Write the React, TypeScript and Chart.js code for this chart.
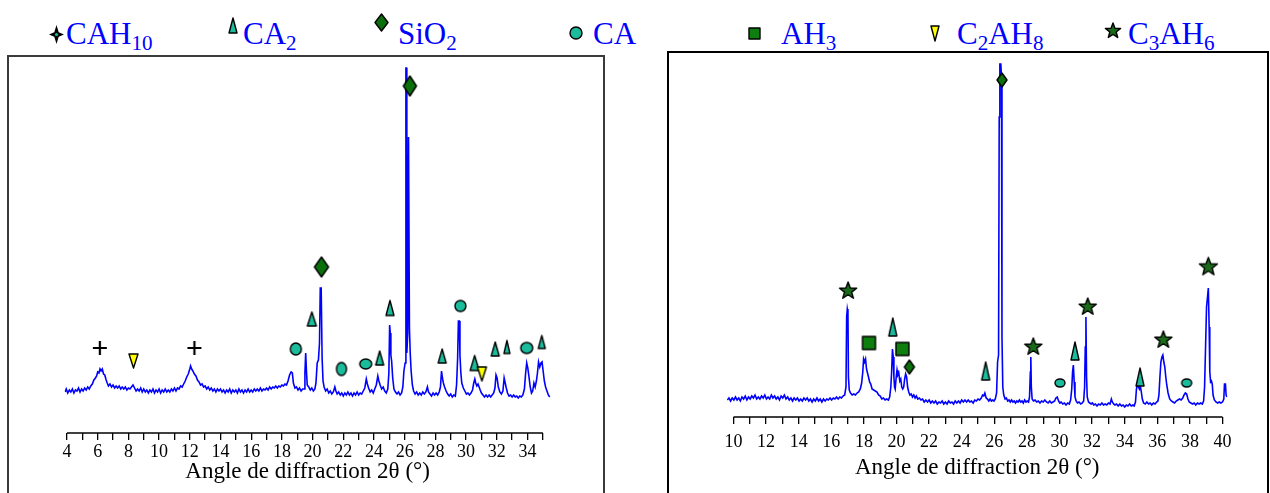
import React, { useEffect, useRef } from 'react';
import { Chart, registerables } from 'chart.js';

Chart.register(...registerables);

type Pt = [number, number];

// ---------------- DATA ----------------
const axisTitle = 'Angle de diffraction 2θ (°)';

const leftTickLabels = [4, 6, 8, 10, 12, 14, 16, 18, 20, 22, 24, 26, 28, 30, 32, 34];
const rightTickLabels = [10, 12, 14, 16, 18, 20, 22, 24, 26, 28, 30, 32, 34, 36, 38, 40];

// left pattern (2θ, intensity a.u.)
const leftSpectrum: Pt[] = [
  [3.87,41],[3.95,44],[4.05,40],[4.15,43],[4.25,41],[4.35,44],[4.45,40],[4.55,43],[4.65,42],[4.75,45],[4.85,41],[4.95,44],
  [5.05,42],[5.15,45],[5.25,43],[5.35,46],[5.45,44],[5.55,47],[5.65,49],[5.75,53],[5.85,55],[5.93,57],[6.0,61],[6.08,60],
  [6.15,64],[6.22,62],[6.3,64],[6.38,59],[6.46,58],[6.55,53],[6.62,50],[6.7,47],[6.8,49],[6.9,46],[7.0,48],[7.1,45],
  [7.2,47],[7.3,45],[7.4,47],[7.5,44],[7.6,46],[7.7,44],[7.8,46],[7.9,43],[8.0,45],[8.1,44],[8.2,46],[8.3,48],[8.4,45],
  [8.5,42],[8.6,44],[8.7,42],[8.8,45],[8.9,41],[9.0,44],[9.1,41],[9.2,43],[9.3,40],[9.4,43],[9.5,41],[9.6,44],[9.7,40],
  [9.8,43],[9.9,41],[10.0,44],[10.1,40],[10.2,43],[10.3,41],[10.4,44],[10.5,41],[10.6,43],[10.7,41],[10.8,44],[10.9,42],
  [11.0,45],[11.1,42],[11.2,45],[11.3,44],[11.4,47],[11.5,46],[11.6,49],[11.7,52],[11.8,56],[11.9,59],[12.0,64],[12.05,67],
  [12.12,64],[12.2,62],[12.3,59],[12.4,57],[12.5,53],[12.6,51],[12.7,48],[12.8,49],[12.9,46],[13.0,47],[13.1,44],[13.2,46],
  [13.3,43],[13.4,45],[13.5,42],[13.6,44],[13.7,41],[13.8,44],[13.9,42],[14.0,44],[14.1,41],[14.2,43],[14.3,40],[14.4,43],
  [14.5,41],[14.6,44],[14.7,40],[14.8,43],[14.9,41],[15.0,43],[15.1,40],[15.2,44],[15.3,41],[15.4,43],[15.5,40],[15.6,43],
  [15.7,41],[15.8,44],[15.9,41],[16.0,43],[16.1,41],[16.2,44],[16.3,42],[16.4,44],[16.5,42],[16.6,45],[16.7,42],[16.8,44],
  [16.9,43],[17.0,45],[17.1,43],[17.2,46],[17.3,44],[17.4,46],[17.5,45],[17.6,47],[17.7,45],[17.8,47],[17.9,46],[18.0,48],
  [18.1,47],[18.2,49],[18.3,48],[18.4,52],[18.5,58],[18.6,61],[18.68,60],[18.75,50],[18.85,45],[18.95,46],[19.05,43],
  [19.15,45],[19.25,42],[19.35,44],[19.45,44],[19.5,60],[19.55,80],[19.6,62],[19.65,48],[19.75,46],[19.85,43],[19.95,45],
  [20.05,42],[20.15,44],[20.22,50],[20.3,70],[20.38,73],[20.45,90],[20.5,145],[20.56,145],[20.62,75],[20.68,52],[20.75,46],
  [20.85,42],[20.95,44],[21.05,40],[21.15,42],[21.25,39],[21.35,41],[21.45,46],[21.52,42],[21.6,39],[21.7,41],[21.8,38],
  [21.9,40],[22.0,37],[22.1,40],[22.2,38],[22.3,41],[22.4,38],[22.5,40],[22.6,37],[22.7,40],[22.8,38],[22.9,41],[23.0,38],
  [23.1,40],[23.2,39],[23.3,42],[23.4,45],[23.5,54],[23.57,49],[23.65,45],[23.75,41],[23.85,43],[23.95,40],[24.05,44],
  [24.15,48],[24.25,57],[24.32,52],[24.4,48],[24.5,44],[24.6,46],[24.7,42],[24.8,40],[24.9,44],[24.97,60],[25.02,108],
  [25.06,100],[25.1,78],[25.15,72],[25.22,55],[25.3,44],[25.4,41],[25.5,39],[25.6,41],[25.7,38],[25.8,40],[25.88,46],
  [25.95,62],[26.03,70],[26.08,365],[26.12,365],[26.14,80],[26.2,100],[26.25,296],[26.28,296],[26.31,105],[26.36,80],
  [26.42,62],[26.5,48],[26.58,42],[26.68,39],[26.78,41],[26.88,38],[26.98,40],[27.08,38],[27.18,41],[27.28,39],[27.38,41],
  [27.48,46],[27.55,41],[27.65,39],[27.75,37],[27.85,40],[27.95,38],[28.05,40],[28.15,38],[28.25,41],[28.33,46],[28.4,62],
  [28.46,55],[28.52,50],[28.6,46],[28.7,42],[28.8,39],[28.9,37],[29.0,39],[29.1,36],[29.2,38],[29.3,37],[29.38,48],
  [29.45,75],[29.5,112],[29.56,112],[29.6,78],[29.66,60],[29.72,50],[29.82,45],[29.92,42],[30.02,39],[30.12,40],[30.22,38],
  [30.32,40],[30.42,43],[30.5,50],[30.57,54],[30.63,50],[30.7,47],[30.78,49],[30.85,46],[30.92,43],[31.0,40],[31.1,38],
  [31.2,36],[31.3,38],[31.4,36],[31.5,38],[31.6,36],[31.7,38],[31.8,40],[31.88,45],[31.95,58],[32.02,55],[32.1,46],
  [32.2,41],[32.3,39],[32.4,42],[32.48,55],[32.55,50],[32.62,45],[32.7,40],[32.8,37],[32.9,38],[33.0,36],[33.1,38],
  [33.2,36],[33.3,37],[33.4,35],[33.5,37],[33.6,36],[33.7,38],[33.8,44],[33.88,60],[33.95,70],[34.02,65],[34.1,56],
  [34.18,46],[34.26,40],[34.34,42],[34.42,50],[34.5,46],[34.58,52],[34.65,60],[34.72,71],[34.8,66],[34.88,70],[34.95,71],
  [35.02,62],[35.1,52],[35.18,46],[35.27,42],[35.36,38],[35.45,36],
];

// right pattern (2θ, intensity a.u.)
const rightSpectrum: Pt[] = [
  [9.62,17],[9.72,19],[9.82,16],[9.92,19],[10.02,17],[10.12,20],[10.22,17],[10.32,19],[10.42,16],[10.52,20],[10.62,18],
  [10.72,21],[10.82,17],[10.92,20],[11.02,18],[11.12,21],[11.22,19],[11.32,22],[11.42,18],[11.52,20],[11.62,18],[11.72,21],
  [11.82,19],[11.92,22],[12.02,18],[12.12,20],[12.22,18],[12.32,22],[12.42,19],[12.52,21],[12.62,18],[12.72,20],[12.82,17],
  [12.92,21],[13.02,19],[13.12,22],[13.22,18],[13.32,20],[13.42,17],[13.52,19],[13.62,16],[13.72,19],[13.82,17],[13.92,19],
  [14.02,16],[14.12,18],[14.22,16],[14.32,19],[14.42,17],[14.52,19],[14.62,16],[14.72,18],[14.82,15],[14.92,18],[15.02,16],
  [15.12,19],[15.22,16],[15.32,18],[15.42,15],[15.52,18],[15.62,16],[15.72,18],[15.82,17],[15.92,19],[16.02,17],[16.12,19],
  [16.22,18],[16.32,20],[16.42,18],[16.52,20],[16.62,19],[16.72,21],[16.82,22],[16.9,30],[16.94,100],[16.98,108],[17.02,104],
  [17.05,40],[17.1,27],[17.18,24],[17.28,22],[17.38,23],[17.48,22],[17.58,24],[17.68,25],[17.78,28],[17.86,34],[17.93,45],
  [17.98,58],[18.04,55],[18.1,58],[18.16,48],[18.22,44],[18.28,40],[18.35,35],[18.42,33],[18.5,28],[18.6,27],[18.7,26],
  [18.8,25],[18.9,22],[19.0,21],[19.1,18],[19.2,19],[19.3,17],[19.4,18],[19.5,17],[19.58,20],[19.65,30],[19.7,45],[19.75,68],
  [19.8,60],[19.84,40],[19.88,30],[19.92,28],[19.98,40],[20.03,47],[20.08,42],[20.14,44],[20.2,36],[20.26,38],[20.32,30],
  [20.38,28],[20.44,30],[20.5,38],[20.56,43],[20.62,40],[20.68,30],[20.75,25],[20.82,22],[20.9,23],[20.98,20],[21.06,22],
  [21.14,19],[21.22,21],[21.3,18],[21.4,19],[21.5,17],[21.6,18],[21.7,15],[21.8,17],[21.9,15],[22.0,17],[22.1,14],[22.2,16],
  [22.3,14],[22.4,16],[22.5,13],[22.6,15],[22.7,14],[22.8,16],[22.9,13],[23.0,15],[23.1,13],[23.2,16],[23.3,14],[23.4,15],
  [23.5,13],[23.6,16],[23.7,14],[23.8,16],[23.9,14],[24.0,17],[24.1,15],[24.2,17],[24.3,15],[24.4,17],[24.5,15],[24.6,16],
  [24.7,14],[24.8,17],[24.9,16],[25.0,18],[25.1,17],[25.2,19],[25.28,22],[25.35,21],[25.42,24],[25.5,19],[25.58,18],
  [25.66,16],[25.74,18],[25.82,16],[25.9,17],[25.98,16],[26.06,18],[26.14,24],[26.2,55],[26.26,62],[26.3,300],[26.34,353],
  [26.4,353],[26.44,340],[26.47,80],[26.52,30],[26.58,22],[26.66,18],[26.74,19],[26.82,16],[26.9,17],[26.98,15],[27.06,17],
  [27.14,15],[27.22,16],[27.3,14],[27.38,16],[27.46,15],[27.54,17],[27.62,15],[27.7,16],[27.78,14],[27.86,17],[27.94,15],
  [28.02,16],[28.1,15],[28.16,20],[28.21,45],[28.24,60],[28.27,30],[28.32,18],[28.4,16],[28.5,17],[28.6,15],[28.7,16],
  [28.8,14],[28.9,16],[29.0,15],[29.1,17],[29.2,15],[29.3,14],[29.4,16],[29.5,14],[29.6,15],[29.7,16],[29.78,19],[29.86,20],
  [29.94,16],[30.02,14],[30.1,15],[30.2,13],[30.3,14],[30.4,12],[30.5,14],[30.6,13],[30.68,17],[30.75,28],[30.8,45],
  [30.85,52],[30.9,35],[30.95,20],[31.02,16],[31.1,14],[31.2,15],[31.3,13],[31.4,14],[31.48,16],[31.54,30],[31.58,70],
  [31.62,100],[31.66,40],[31.7,20],[31.78,15],[31.86,14],[31.94,13],[32.02,14],[32.1,12],[32.2,13],[32.3,11],[32.4,13],
  [32.5,12],[32.6,14],[32.7,12],[32.8,13],[32.9,12],[33.0,14],[33.1,13],[33.18,18],[33.24,15],[33.32,13],[33.4,12],[33.5,13],
  [33.6,11],[33.7,13],[33.8,11],[33.9,12],[34.0,10],[34.1,12],[34.2,11],[34.3,13],[34.4,11],[34.5,12],[34.58,11],[34.66,15],
  [34.72,28],[34.78,33],[34.84,30],[34.9,28],[34.96,31],[35.02,25],[35.08,18],[35.16,14],[35.26,13],[35.36,15],[35.46,13],
  [35.56,14],[35.66,12],[35.76,14],[35.86,13],[35.96,15],[36.04,16],[36.1,22],[36.16,40],[36.22,55],[36.28,60],[36.34,62],
  [36.4,55],[36.46,50],[36.52,40],[36.58,32],[36.66,24],[36.76,18],[36.86,16],[36.96,15],[37.06,14],[37.16,16],[37.26,17],
  [37.36,18],[37.46,17],[37.56,19],[37.64,22],[37.72,24],[37.8,23],[37.88,18],[37.96,15],[38.06,14],[38.16,13],[38.26,14],
  [38.36,12],[38.46,14],[38.56,13],[38.66,14],[38.76,13],[38.84,16],[38.9,30],[38.96,70],[39.02,110],[39.08,120],[39.13,129],
  [39.18,90],[39.22,45],[39.27,35],[39.32,36],[39.37,33],[39.42,22],[39.5,17],[39.6,15],[39.7,14],[39.8,15],[39.9,14],
  [40.0,15],[40.08,18],[40.12,33],[40.18,33],[40.22,22],[40.28,20],
];

// phase markers, left pattern
const leftCAH10: Pt[] = [[6.14, 85], [12.3, 85]];
const leftC2AH8: Pt[] = [[8.33, 72], [31.03, 59]];
const leftCA: Pt[] = [[18.91, 84], [21.88, 64], [23.46, 69], [29.63, 127], [33.95, 85]];
const leftCA2: Pt[] = [[19.95, 114], [24.37, 75], [25.04, 125], [28.44, 77], [30.56, 70], [31.9, 84], [32.66, 86], [34.93, 91]];
const leftSiO2: Pt[] = [[20.58, 166], [26.34, 347]];

// phase markers, right pattern
const rightC3AH6: Pt[] = [[17.03, 126], [28.39, 70], [31.73, 110], [36.37, 77], [39.13, 150]];
const rightAH3: Pt[] = [[18.31, 74], [20.36, 68]];
const rightCA2: Pt[] = [[19.77, 90], [25.47, 46], [30.95, 66], [34.94, 40]];
const rightSiO2: Pt[] = [[20.79, 50], [26.47, 337]];
const rightCA: Pt[] = [[30.03, 34], [37.8, 34]];

// ---------------- STYLE ----------------
const FONT = 'Liberation Serif, Times New Roman, serif';
const TEAL = '#1ABC9C';
const DGREEN = '#0B700B';
const SQGREEN = '#0E7E0E';
const STARGREEN = '#1A6A1A';
const YELLOW = '#FFFF00';

function makeMarker(kind: string, w: number, h: number, fill: string): HTMLCanvasElement {
  const pad = 2;
  const c = document.createElement('canvas');
  c.width = Math.ceil(w + pad * 2);
  c.height = Math.ceil(h + pad * 2);
  const ctx = c.getContext('2d') as CanvasRenderingContext2D;
  const cx = c.width / 2, cy = c.height / 2;
  ctx.lineWidth = 1.4;
  ctx.strokeStyle = '#000';
  ctx.fillStyle = fill;
  ctx.lineJoin = 'round';
  ctx.beginPath();
  if (kind === 'plus') {
    ctx.lineWidth = 2.2;
    ctx.moveTo(cx, cy - h / 2); ctx.lineTo(cx, cy + h / 2);
    ctx.moveTo(cx - w / 2, cy); ctx.lineTo(cx + w / 2, cy);
    ctx.stroke();
    return c;
  }
  if (kind === 'tri') {
    ctx.moveTo(cx, cy - h / 2); ctx.lineTo(cx + w / 2, cy + h / 2); ctx.lineTo(cx - w / 2, cy + h / 2); ctx.closePath();
  } else if (kind === 'itri') {
    ctx.moveTo(cx - w / 2, cy - h / 2); ctx.lineTo(cx + w / 2, cy - h / 2); ctx.lineTo(cx, cy + h / 2); ctx.closePath();
  } else if (kind === 'diamond') {
    ctx.moveTo(cx, cy - h / 2); ctx.lineTo(cx + w / 2, cy); ctx.lineTo(cx, cy + h / 2); ctx.lineTo(cx - w / 2, cy); ctx.closePath();
  } else if (kind === 'ellipse') {
    ctx.ellipse(cx, cy, w / 2, h / 2, 0, 0, Math.PI * 2);
  } else if (kind === 'square') {
    ctx.rect(cx - w / 2, cy - h / 2, w, h);
  } else if (kind === 'star') {
    const R = w / 2, r = R * 0.42;
    for (let i = 0; i < 10; i++) {
      const a = -Math.PI / 2 + (i * Math.PI) / 5;
      const rr = i % 2 === 0 ? R : r;
      const px = cx + rr * Math.cos(a), py = cy + rr * Math.sin(a);
      if (i === 0) ctx.moveTo(px, py); else ctx.lineTo(px, py);
    }
    ctx.closePath();
  }
  ctx.fill();
  ctx.stroke();
  return c;
}

type MarkerSet = { data: Pt[]; kind: string; fill: string; sizes: Pt[] };

const axisLinePlugin = {
  id: 'axisLine',
  afterDraw(chart: any, _args: any, opts: any) {
    const s = chart.scales.x;
    const ctx = chart.ctx;
    ctx.save();
    ctx.strokeStyle = '#000';
    ctx.lineWidth = 1.5;
    ctx.beginPath();
    ctx.moveTo(s.getPixelForValue(opts.from), s.top);
    ctx.lineTo(s.getPixelForValue(opts.to), s.top);
    ctx.stroke();
    ctx.restore();
  },
};

type PanelProps = {
  spectrum: Pt[];
  markers: MarkerSet[];
  xMin: number; xMax: number;
  tickFrom: number; tickTo: number;
  labels: number[];
  yMax: number;
  padLeft: number; padRight: number; padTop: number;
  axisHeight: number;
  titlePadBottom: number;
  tickPad: number;
  left: number; width: number;
};

function Panel(p: PanelProps) {
  const ref = useRef<HTMLCanvasElement>(null);
  useEffect(() => {
    if (!ref.current) return;
    const datasets: any[] = [
      {
        data: p.spectrum.map(([x, y]) => ({ x, y })),
        showLine: true,
        borderColor: '#0000FF',
        borderWidth: 1.6,
        pointRadius: 0,
        tension: 0,
        order: 10,
      },
      ...p.markers.map((m) => ({
        data: m.data.map(([x, y]) => ({ x, y })),
        showLine: false,
        pointStyle: m.sizes.map(([w, h]) => makeMarker(m.kind, w, h, m.fill)),
        pointRadius: 6,
        order: 1,
      })),
    ];
    const chart = new Chart(ref.current, {
      type: 'scatter',
      data: { datasets },
      plugins: [axisLinePlugin as any],
      options: {
        responsive: false,
        animation: false,
        events: [],
        layout: { padding: { left: p.padLeft, right: p.padRight, top: p.padTop, bottom: 0 } },
        plugins: {
          legend: { display: false },
          tooltip: { enabled: false },
          axisLine: { from: p.tickFrom, to: p.tickTo },
        } as any,
        scales: {
          x: {
            type: 'linear',
            min: p.xMin,
            max: p.xMax,
            border: { display: false },
            grid: { drawOnChartArea: false, drawTicks: true, tickLength: 7, color: '#000', lineWidth: 1.3 },
            afterBuildTicks: (s: any) => {
              const t: any[] = [];
              for (let v = p.tickFrom; v <= p.tickTo; v += 1) t.push({ value: v });
              s.ticks = t;
            },
            afterFit: (s: any) => { s.height = p.axisHeight; },
            ticks: {
              autoSkip: false,
              maxRotation: 0,
              padding: p.tickPad,
              color: '#000',
              font: { family: FONT, size: 18 },
              callback: (v: any) => (p.labels.includes(Number(v)) ? String(v) : ''),
            },
            title: {
              display: true,
              text: axisTitle,
              color: '#000',
              font: { family: FONT, size: 23 },
              padding: { top: 0, bottom: p.titlePadBottom },
            },
          },
          y: { display: false, min: 0, max: p.yMax },
        },
      },
    });
    return () => chart.destroy();
  }, []);
  return (
    <canvas
      ref={ref}
      width={p.width}
      height={493}
      style={{ position: 'absolute', left: p.left, top: 0, width: p.width, height: 493 }}
    />
  );
}

// ---------------- LEGEND ----------------
function Icon({ kind, w, h, fill, x, y }: { kind: string; w: number; h: number; fill: string; x: number; y: number }) {
  const pad = 2;
  const W = w + pad * 2, H = h + pad * 2;
  const cx = W / 2, cy = H / 2;
  let shape: any = null;
  const st = { stroke: '#000', strokeWidth: 1.4, strokeLinejoin: 'round' as const };
  if (kind === 'cross') {
    const r = w / 2, i = 2.2;
    const d = `M${cx} ${cy - h / 2} L${cx + i} ${cy - i} L${cx + r} ${cy} L${cx + i} ${cy + i} L${cx} ${cy + h / 2} L${cx - i} ${cy + i} L${cx - r} ${cy} L${cx - i} ${cy - i} Z`;
    shape = (<><path d={d} fill="#000" /><circle cx={cx} cy={cy} r={1.6} fill={fill} /></>);
  } else if (kind === 'tri') {
    shape = <path d={`M${cx} ${cy - h / 2} L${cx + w / 2} ${cy + h / 2} L${cx - w / 2} ${cy + h / 2} Z`} fill={fill} {...st} />;
  } else if (kind === 'itri') {
    shape = <path d={`M${cx - w / 2} ${cy - h / 2} L${cx + w / 2} ${cy - h / 2} L${cx} ${cy + h / 2} Z`} fill={fill} {...st} />;
  } else if (kind === 'diamond') {
    shape = <path d={`M${cx} ${cy - h / 2} L${cx + w / 2} ${cy} L${cx} ${cy + h / 2} L${cx - w / 2} ${cy} Z`} fill={fill} {...st} />;
  } else if (kind === 'ellipse') {
    shape = <ellipse cx={cx} cy={cy} rx={w / 2} ry={h / 2} fill={fill} {...st} />;
  } else if (kind === 'square') {
    shape = <rect x={cx - w / 2} y={cy - h / 2} width={w} height={h} fill={fill} {...st} />;
  } else if (kind === 'star') {
    const R = w / 2, r = R * 0.42;
    let d = '';
    for (let i = 0; i < 10; i++) {
      const a = -Math.PI / 2 + (i * Math.PI) / 5;
      const rr = i % 2 === 0 ? R : r;
      d += `${i === 0 ? 'M' : 'L'}${(cx + rr * Math.cos(a)).toFixed(2)} ${(cy + rr * Math.sin(a)).toFixed(2)} `;
    }
    shape = <path d={d + 'Z'} fill={fill} {...st} />;
  }
  return (
    <svg width={W} height={H} style={{ position: 'absolute', left: x - W / 2, top: y - H / 2 }}>
      {shape}
    </svg>
  );
}

type Seg = [string, boolean];
const legendNames: Seg[][] = [
  [['CAH', false], ['10', true]],
  [['CA', false], ['2', true]],
  [['SiO', false], ['2', true]],
  [['CA', false]],
  [['AH', false], ['3', true]],
  [['C', false], ['2', true], ['AH', false], ['8', true]],
  [['C', false], ['3', true], ['AH', false], ['6', true]],
];
const legendIcons = [
  { kind: 'cross', w: 15, h: 19, fill: TEAL, x: 56, y: 34, tx: 66 },
  { kind: 'tri', w: 8, h: 15, fill: TEAL, x: 233, y: 25, tx: 243 },
  { kind: 'diamond', w: 13, h: 17, fill: DGREEN, x: 381, y: 22, tx: 398 },
  { kind: 'ellipse', w: 12, h: 12, fill: TEAL, x: 576, y: 33, tx: 593 },
  { kind: 'square', w: 11, h: 11, fill: SQGREEN, x: 754, y: 33, tx: 781 },
  { kind: 'itri', w: 8, h: 15, fill: YELLOW, x: 935, y: 33, tx: 957 },
  { kind: 'star', w: 16, h: 16, fill: STARGREEN, x: 1113, y: 31, tx: 1128 },
];

function Legend() {
  return (
    <>
      {legendIcons.map((ic, i) => (
        <React.Fragment key={i}>
          <Icon kind={ic.kind} w={ic.w} h={ic.h} fill={ic.fill} x={ic.x} y={ic.y} />
          <div
            style={{
              position: 'absolute', left: ic.tx, top: 18, fontFamily: FONT, fontSize: 31,
              lineHeight: '31px', color: '#0000FF', whiteSpace: 'nowrap',
            }}
          >
            {legendNames[i].map(([t, sub], j) =>
              sub ? (
                <span key={j} style={{ fontSize: '0.68em', position: 'relative', top: '0.3em', lineHeight: 1 }}>{t}</span>
              ) : (
                <span key={j}>{t}</span>
              )
            )}
          </div>
        </React.Fragment>
      ))}
    </>
  );
}

// ---------------- APP ----------------
export default function App() {
  const leftMarkers: MarkerSet[] = [
    { data: leftCAH10, kind: 'plus', fill: '#000', sizes: [[14, 14], [14, 14]] },
    { data: leftC2AH8, kind: 'itri', fill: YELLOW, sizes: [[9, 14], [9, 14]] },
    { data: leftCA, kind: 'ellipse', fill: TEAL, sizes: [[11, 12], [10, 13], [12, 10], [11, 11], [12, 11]] },
    { data: leftCA2, kind: 'tri', fill: TEAL, sizes: [[9, 14], [8, 14], [8, 15], [8, 14], [9, 15], [8, 14], [6, 13], [7, 13]] },
    { data: leftSiO2, kind: 'diamond', fill: DGREEN, sizes: [[14, 20], [13, 20]] },
  ];
  const rightMarkers: MarkerSet[] = [
    { data: rightC3AH6, kind: 'star', fill: STARGREEN, sizes: [[18, 18], [18, 18], [18, 18], [18, 18], [19, 19]] },
    { data: rightAH3, kind: 'square', fill: SQGREEN, sizes: [[13, 13], [13, 13]] },
    { data: rightCA2, kind: 'tri', fill: TEAL, sizes: [[8, 18], [8, 18], [8, 18], [8, 18]] },
    { data: rightSiO2, kind: 'diamond', fill: DGREEN, sizes: [[10, 14], [10, 14]] },
    { data: rightCA, kind: 'ellipse', fill: TEAL, sizes: [[10, 8], [10, 8]] },
  ];
  return (
    <div style={{ position: 'absolute', left: 0, top: 0, width: 1270, height: 493, overflow: 'hidden', background: '#fff' }}>
      <div style={{ position: 'absolute', left: 7, top: 55, width: 594, height: 500, border: '2px solid #3a3a3a' }} />
      <div style={{ position: 'absolute', left: 667, top: 51, width: 598, height: 500, border: '2px solid #000' }} />
      <Legend />
      <Panel
        spectrum={leftSpectrum}
        markers={leftMarkers}
        xMin={3.85} xMax={35.5} tickFrom={4} tickTo={35}
        labels={leftTickLabels}
        yMax={375}
        padLeft={64.7} padRight={59.5} padTop={58}
        axisHeight={60} titlePadBottom={7} tickPad={1}
        left={0} width={610}
      />
      <Panel
        spectrum={rightSpectrum}
        markers={rightMarkers}
        xMin={9.6} xMax={40.3} tickFrom={10} tickTo={40}
        labels={rightTickLabels}
        yMax={363}
        padLeft={67} padRight={42.6} padTop={54}
        axisHeight={76} titlePadBottom={11} tickPad={7}
        left={660} width={610}
      />
    </div>
  );
}
